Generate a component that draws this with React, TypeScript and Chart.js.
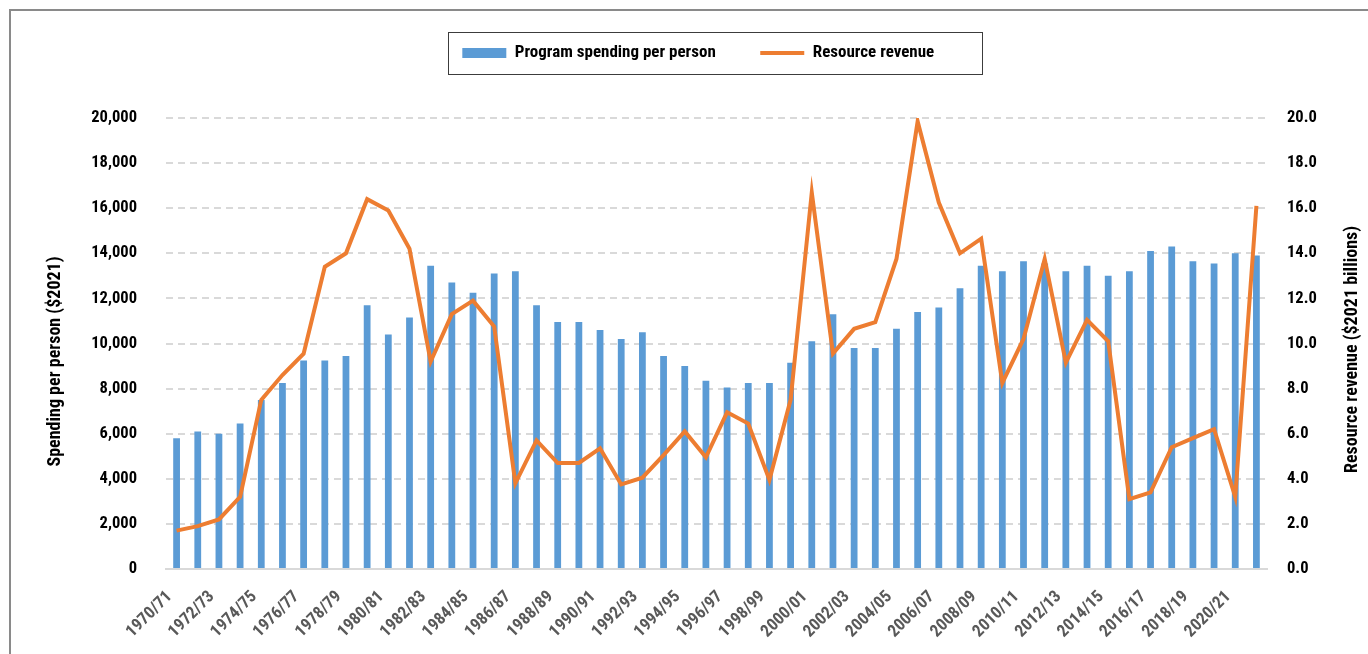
import React, { useEffect, useRef } from 'react';
import { Chart, registerables } from 'chart.js';

Chart.register(...registerables);

const categories = [
  '1970/71', '1971/72', '1972/73', '1973/74', '1974/75', '1975/76', '1976/77', '1977/78',
  '1978/79', '1979/80', '1980/81', '1981/82', '1982/83', '1983/84', '1984/85', '1985/86',
  '1986/87', '1987/88', '1988/89', '1989/90', '1990/91', '1991/92', '1992/93', '1993/94',
  '1994/95', '1995/96', '1996/97', '1997/98', '1998/99', '1999/00', '2000/01', '2001/02',
  '2002/03', '2003/04', '2004/05', '2005/06', '2006/07', '2007/08', '2008/09', '2009/10',
  '2010/11', '2011/12', '2012/13', '2013/14', '2014/15', '2015/16', '2016/17', '2017/18',
  '2018/19', '2019/20', '2020/21', '2021/22',
];

const programSpending = [
  5800, 6100, 6000, 6450, 7500, 8250, 9250, 9250, 9450, 11700,
  10400, 11150, 13450, 12700, 12250, 13100, 13200, 11700, 10950, 10950,
  10600, 10200, 10500, 9450, 9000, 8350, 8050, 8250, 8250, 9150,
  10100, 11300, 9800, 9800, 10650, 11400, 11600, 12450, 13450, 13200,
  13650, 13550, 13200, 13450, 13000, 13200, 14100, 14300, 13650, 13550,
  14000, 13900,
];

const resourceRevenue = [
  1.7, 1.9, 2.2, 3.2, 7.5, 8.6, 9.55, 13.4, 14.0, 16.4,
  15.9, 14.2, 9.2, 11.3, 11.9, 10.75, 3.8, 5.7, 4.7, 4.7,
  5.35, 3.75, 4.05, 5.05, 6.1, 4.95, 6.95, 6.45, 3.95, 7.5,
  16.7, 9.55, 10.65, 10.95, 13.75, 19.85, 16.25, 14.0, 14.65, 8.25,
  10.2, 13.75, 9.15, 11.05, 10.1, 3.1, 3.4, 5.4, 5.8, 6.2,
  3.2, 16.1,
];

const seriesNames = ['Program spending per person', 'Resource revenue'];
const axisTitles = ['Spending per person ($2021)', 'Resource revenue ($2021 billions)'];
const leftAxisRange = [0, 20000, 2000];
const rightAxisRange = [0, 20, 2];

const FONT = "'Roboto Condensed', 'Liberation Sans Narrow', 'DejaVu Sans Condensed', sans-serif";
const BLUE = '#5b9bd5';
const ORANGE = '#ed7d31';

const legendBoxPlugin = {
  id: 'legendBox',
  afterDraw(chart: any) {
    const lg = chart.legend;
    if (!lg || !lg.legendHitBoxes || !lg.legendHitBoxes.length) return;
    const hb = lg.legendHitBoxes;
    const first = hb[0];
    const last = hb[hb.length - 1];
    const left = first.left - 14;
    const right = last.left + last.width + 48;
    const cy = first.top + first.height / 2;
    const ctx = chart.ctx;
    ctx.save();
    ctx.strokeStyle = '#3c3c3c';
    ctx.lineWidth = 1;
    ctx.strokeRect(Math.round(left) + 0.5, Math.round(cy - 21) + 0.5, Math.round(right - left), 42);
    ctx.restore();
  },
};

// Vertical axis titles, both reading bottom-to-top as in the reference
const axisTitlePlugin = {
  id: 'axisTitles',
  afterDraw(chart: any) {
    const ctx = chart.ctx;
    const area = chart.chartArea;
    const yr = chart.scales.y1;
    ctx.save();
    ctx.fillStyle = '#000';
    ctx.font = `bold 18px ${FONT}`;
    ctx.textAlign = 'center';
    ctx.textBaseline = 'middle';
    const mid = (area.top + area.bottom) / 2;
    const items = [
      { text: axisTitles[0], x: 55, y: mid + 18 },
      { text: axisTitles[1], x: yr.right - 16, y: mid + 6 },
    ];
    items.forEach((it) => {
      ctx.save();
      ctx.translate(it.x, it.y);
      ctx.rotate(-Math.PI / 2);
      ctx.fillText(it.text, 0, 0);
      ctx.restore();
    });
    ctx.restore();
  },
};

export default function App() {
  const ref = useRef<HTMLCanvasElement | null>(null);

  useEffect(() => {
    if (!ref.current) return;
    const chart = new Chart(ref.current, {
      type: 'bar',
      data: {
        labels: categories,
        datasets: [
          {
            type: 'bar',
            label: seriesNames[0],
            data: programSpending,
            backgroundColor: BLUE,
            borderWidth: 0,
            yAxisID: 'y',
            order: 1,
            barPercentage: 0.32,
            categoryPercentage: 1,
            pointStyle: 'rect',
          } as any,
          {
            type: 'line',
            label: seriesNames[1],
            data: resourceRevenue,
            borderColor: ORANGE,
            backgroundColor: ORANGE,
            borderWidth: 4,
            pointRadius: 0,
            pointHoverRadius: 0,
            tension: 0,
            yAxisID: 'y1',
            order: 0,
            pointStyle: 'line',
            borderJoinStyle: 'miter',
          } as any,
        ],
      },
      options: {
        animation: false,
        responsive: true,
        maintainAspectRatio: false,
        layout: { padding: { left: 28.5, top: 0, right: 0, bottom: 0 } },
        plugins: {
          tooltip: { enabled: false },
          title: {
            display: true,
            text: '',
            position: 'top',
            weight: 500,
            font: { size: 10 },
            padding: { top: 34.5, bottom: 0 },
          },
          legend: {
            position: 'top',
            labels: {
              usePointStyle: true,
              pointStyleWidth: 44,
              boxHeight: 10,
              padding: 44.5,
              color: '#000',
              font: { family: FONT, size: 17, weight: 'bold' },
              sort: (a: any, b: any) => a.datasetIndex - b.datasetIndex,
            },
          },
        },
        scales: {
          x: {
            grid: { display: false, drawTicks: false },
            border: { display: true, color: '#d9d9d9', width: 2 },
            ticks: {
              autoSkip: false,
              maxRotation: 45,
              minRotation: 45,
              padding: 18,
              labelOffset: -7,
              color: '#595959',
              font: { family: FONT, size: 17, weight: 'bold' },
              callback: (_v: any, i: number) => (i % 2 === 0 ? categories[i] : ''),
            },
            afterFit: (s: any) => {
              s.height = 85;
            },
          },
          y: {
            position: 'left',
            min: leftAxisRange[0],
            max: leftAxisRange[1],
            grid: {
              color: '#d9d9d9',
              lineWidth: 2,
              drawTicks: false,
            },
            border: { display: false, dash: [7, 5] },
            ticks: {
              stepSize: leftAxisRange[2],
              padding: 29,
              color: '#000',
              font: { family: FONT, size: 16.5, weight: 'bold' },
              callback: (v: any) => Number(v).toLocaleString('en-US'),
            },
            afterFit: (s: any) => {
              s.width = 137.5;
            },
          },
          y1: {
            position: 'right',
            min: rightAxisRange[0],
            max: rightAxisRange[1],
            grid: { display: false, drawTicks: false },
            border: { display: false },
            ticks: {
              stepSize: rightAxisRange[2],
              padding: 20,
              color: '#000',
              font: { family: FONT, size: 16.5, weight: 'bold' },
              callback: (v: any) => Number(v).toFixed(1),
            },
            afterFit: (s: any) => {
              s.width = 101;
            },
          },
        },
      } as any,
      plugins: [legendBoxPlugin, axisTitlePlugin],
    });
    return () => chart.destroy();
  }, []);

  return (
    <>
      <div
        style={{
          position: 'fixed',
          left: 0,
          top: 0,
          width: 1368,
          height: 654,
          background: '#fff',
        }}
      >
        <canvas ref={ref} />
      </div>
      <div
        style={{
          position: 'fixed',
          left: 9,
          top: 9,
          width: 1400,
          height: 700,
          border: '2px solid #8a8a8a',
          pointerEvents: 'none',
        }}
      />
    </>
  );
}
